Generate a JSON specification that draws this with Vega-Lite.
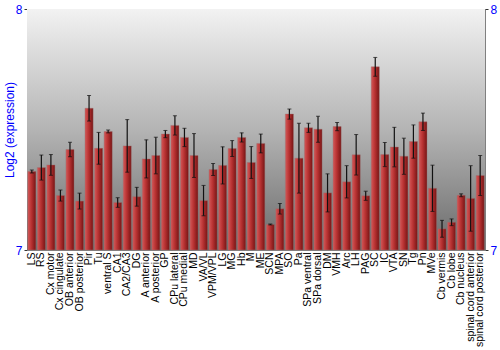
{
  "$schema": "https://vega.github.io/schema/vega-lite/v6.json",
  "autosize": "none",
  "width": 458,
  "height": 241,
  "padding": {"left": 27, "top": 9, "right": 15, "bottom": 100},
  "background": "white",
  "config": {
    "font": "Liberation Sans",
    "view": {"stroke": "#808080", "strokeWidth": 1},
    "axis": {"grid": false}
  },
  "data": {
    "values": [
      {"region": "LS", "value": 7.326, "err": 0.006},
      {"region": "RS", "value": 7.342, "err": 0.052},
      {"region": "Cx motor", "value": 7.353, "err": 0.043},
      {"region": "Cx cingulate", "value": 7.226, "err": 0.023},
      {"region": "OB anterior", "value": 7.417, "err": 0.03},
      {"region": "OB posterior", "value": 7.203, "err": 0.033},
      {"region": "Pir", "value": 7.588, "err": 0.053},
      {"region": "Tu", "value": 7.422, "err": 0.066},
      {"region": "ventral S", "value": 7.492, "err": 0.006},
      {"region": "CA1", "value": 7.197, "err": 0.02},
      {"region": "CA2/CA3", "value": 7.432, "err": 0.109},
      {"region": "DG", "value": 7.221, "err": 0.039},
      {"region": "A anterior", "value": 7.378, "err": 0.079},
      {"region": "A posterior", "value": 7.392, "err": 0.076},
      {"region": "GP", "value": 7.481, "err": 0.015},
      {"region": "CPu lateral", "value": 7.517, "err": 0.04},
      {"region": "CPu medial", "value": 7.467, "err": 0.038},
      {"region": "MD", "value": 7.392, "err": 0.091},
      {"region": "VA/VL", "value": 7.205, "err": 0.063},
      {"region": "VPM/VPL", "value": 7.334, "err": 0.025},
      {"region": "LG", "value": 7.351, "err": 0.077},
      {"region": "MG", "value": 7.421, "err": 0.033},
      {"region": "Hb", "value": 7.467, "err": 0.019},
      {"region": "M", "value": 7.363, "err": 0.066},
      {"region": "ME", "value": 7.442, "err": 0.039},
      {"region": "SCN", "value": 7.106, "err": 0.002},
      {"region": "MPA", "value": 7.171, "err": 0.022},
      {"region": "SO", "value": 7.564, "err": 0.021},
      {"region": "Pa", "value": 7.381, "err": 0.145},
      {"region": "SPa ventral", "value": 7.507, "err": 0.019},
      {"region": "SPa dorsal", "value": 7.501, "err": 0.054},
      {"region": "DM", "value": 7.237, "err": 0.079},
      {"region": "VMH", "value": 7.512, "err": 0.017},
      {"region": "Arc", "value": 7.283, "err": 0.067},
      {"region": "LH", "value": 7.395, "err": 0.084},
      {"region": "PAG", "value": 7.225, "err": 0.019},
      {"region": "SC", "value": 7.76, "err": 0.039},
      {"region": "IC", "value": 7.396, "err": 0.05},
      {"region": "VTA", "value": 7.427, "err": 0.082},
      {"region": "SN", "value": 7.389, "err": 0.075},
      {"region": "Tg", "value": 7.45, "err": 0.069},
      {"region": "Pn", "value": 7.532, "err": 0.036},
      {"region": "MVe", "value": 7.256, "err": 0.096},
      {"region": "Cb vermis", "value": 7.088, "err": 0.035},
      {"region": "Cb lobe", "value": 7.115, "err": 0.014},
      {"region": "Cb nucleus", "value": 7.227, "err": 0.006},
      {"region": "spinal cord anterior", "value": 7.214, "err": 0.136},
      {"region": "spinal cord posterior", "value": 7.309, "err": 0.083}
    ]
  },
  "layer": [
    {
      "data": {"values": [{"lo": 7, "hi": 8}]},
      "mark": {
        "type": "rect",
        "fill": {
          "gradient": "linear", "x1": 0, "y1": 0, "x2": 0, "y2": 1,
          "stops": [
            {"offset": 0, "color": "#f2f2f2"},
            {"offset": 0.5, "color": "#b4b4b4"},
            {"offset": 1, "color": "#6a6a6a"}
          ]
        }
      },
      "encoding": {
        "y": {"field": "hi", "type": "quantitative", "scale": {"domain": [7, 8]}, "axis": null},
        "y2": {"field": "lo"}
      }
    },
    {
      "mark": {
        "type": "bar",
        "stroke": "#9a7070",
        "strokeWidth": 0.6,
        "strokeOpacity": 0.7,
        "fill": {
          "gradient": "linear", "x1": 0, "y1": 0, "x2": 1, "y2": 0,
          "stops": [
            {"offset": 0, "color": "#d45858"},
            {"offset": 0.45, "color": "#b83232"},
            {"offset": 1, "color": "#761414"}
          ]
        }
      },
      "encoding": {
        "x": {
          "field": "region", "type": "nominal", "sort": null,
          "scale": {"paddingInner": 0.15, "paddingOuter": 0.08},
          "axis": {
            "title": null, "labelAngle": -90, "labelFontSize": 10.5, "labelColor": "#000000",
            "ticks": false, "domain": false, "labelPadding": 2, "labelAlign": "right", "labelBaseline": "middle"
          }
        },
        "y": {
          "field": "value", "type": "quantitative",
          "scale": {"domain": [7, 8], "zero": false, "clamp": true},
          "axis": {
            "orient": "left", "values": [7, 8], "format": "d",
            "title": "Log2 (expression)", "titleColor": "#0000ff", "titleFontSize": 12, "titleFontWeight": "normal",
            "titleX": -18, "titleBaseline": "middle",
            "labelColor": "#0000ff", "labelFontSize": 12, "labelPadding": 2,
            "tickSize": 3, "tickColor": "#333333", "domainColor": "#808080"
          }
        },
        "y2": {"datum": 7}
      }
    },
    {
      "mark": {"type": "errorbar", "ticks": {"size": 4, "color": "#111111"}, "rule": {"color": "#111111", "strokeWidth": 1.2}},
      "encoding": {
        "x": {"field": "region", "type": "nominal", "sort": null},
        "y": {
          "field": "value", "type": "quantitative",
          "axis": {
            "orient": "right", "values": [7, 8], "format": "d", "title": null,
            "labelColor": "#0000ff", "labelFontSize": 12, "labelPadding": 2,
            "tickSize": 3, "tickColor": "#333333", "domainColor": "#808080"
          }
        },
        "yError": {"field": "err"}
      }
    }
  ],
  "resolve": {"axis": {"y": "independent"}}
}
